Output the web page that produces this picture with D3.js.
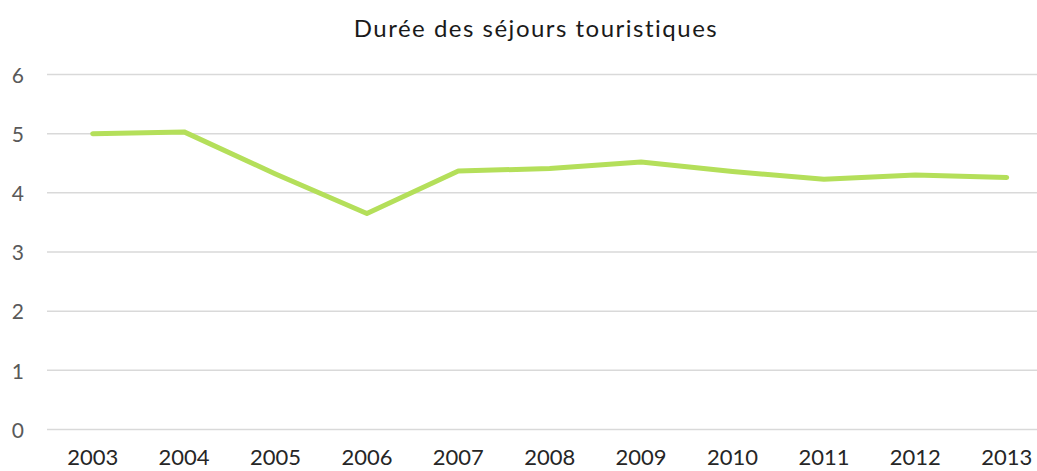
<!DOCTYPE html>
<html>
<head>
<meta charset="utf-8">
<script src="https://cdn.jsdelivr.net/npm/d3@7"></script>
<style>
  body { margin: 0; background: #fff; }
  svg { display: block; font-family: 'Lato', 'Open Sans', sans-serif; }
</style>
</head>
<body>
<svg id="chart" width="1037" height="471"></svg>
<script>
// data
var years = ['2003', '2004', '2005', '2006', '2007', '2008', '2009', '2010', '2011', '2012', '2013']
var duree = [5.0, 5.03, 4.32, 3.65, 4.37, 4.41, 4.52, 4.36, 4.23, 4.3, 4.26]
var yTicks = [0, 1, 2, 3, 4, 5, 6]
var title = 'Durée des séjours touristiques'

var width = 1037
var height = 471
var margin = { top: 74.5, left: 47, bottom: 41.5 }

var svg = d3.select('#chart')

var x = d3
  .scaleBand()
  .domain(years)
  .range([margin.left, margin.left + 11 * 91.4])

var y = d3
  .scaleLinear()
  .domain([0, 6])
  .range([height - margin.bottom, margin.top])

// gridlines
svg
  .append('g')
  .selectAll('line')
  .data(yTicks)
  .enter()
  .append('line')
  .attr('x1', margin.left)
  .attr('x2', width)
  .attr('y1', function(d) { return y(d) })
  .attr('y2', function(d) { return y(d) })
  .style('stroke', '#d9d9d9')
  .style('stroke-width', 1.5)

// y axis labels
var yAxis = d3
  .axisLeft(y)
  .tickValues(yTicks)
  .tickFormat(d3.format('d'))
  .tickSize(0)
  .tickPadding(0)
var gy = svg
  .append('g')
  .attr('transform', 'translate(24,1)')
  .call(yAxis)
  .attr('font-family', null)
gy.select('.domain').remove()
gy.selectAll('text')
  .style('font-size', '21px')
  .style('fill', '#595959')

// x axis labels
var xAxis = d3.axisBottom(x).tickSize(0).tickPadding(0)
var gx = svg
  .append('g')
  .attr('transform', 'translate(0,' + (height - 6) + ')')
  .call(xAxis)
  .attr('font-family', null)
gx.select('.domain').remove()
gx.selectAll('text')
  .attr('dy', 0)
  .style('font-size', '22px')
  .style('fill', '#262626')

// the series line
var line = d3
  .line()
  .x(function(d, i) { return x(years[i]) + x.bandwidth() / 2 })
  .y(function(d) { return y(d) })

svg
  .append('path')
  .datum(duree)
  .attr('d', line)
  .attr('fill', 'none')
  .style('stroke', '#b4df5a')
  .style('stroke-width', 5)
  .style('stroke-linecap', 'round')
  .style('stroke-linejoin', 'round')

// title
svg
  .append('text')
  .attr('x', 536)
  .attr('y', 37)
  .attr('text-anchor', 'middle')
  .style('font-size', '24px')
  .style('letter-spacing', '1.5px')
  .style('fill', '#1a1a1a')
  .text(title)
</script>
</body>
</html>
